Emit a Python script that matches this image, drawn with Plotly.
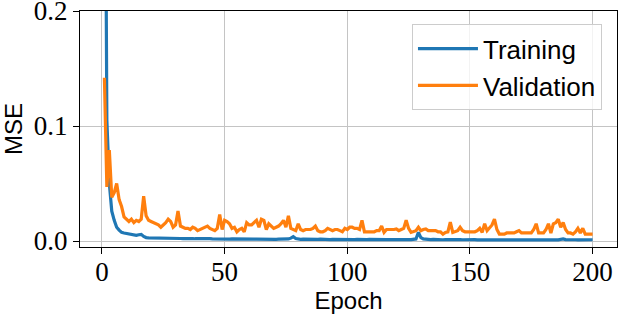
import plotly.graph_objects as go

epochs = list(range(1, 201))

training = [
    0.5, 0.105, 0.050, 0.026, 0.018, 0.012, 0.0095, 0.0075, 0.007, 0.0065, 0.006, 0.0055, 0.0055, 0.005, 0.0055, 0.0058, 0.004, 0.003, 0.0028, 0.0028,
    0.0027, 0.0026, 0.0027, 0.0025, 0.0024, 0.0026, 0.0024, 0.0023, 0.0025, 0.0022, 0.0023, 0.0022, 0.0021, 0.0023, 0.0021, 0.0020, 0.0022, 0.0020, 0.0021, 0.0019,
    0.0021, 0.0020, 0.0019, 0.0021, 0.0019, 0.0018, 0.0020, 0.0019, 0.0018, 0.0019, 0.0018, 0.0017, 0.0019, 0.0018, 0.0017, 0.0018, 0.0017, 0.0018, 0.0016, 0.0017,
    0.0018, 0.0016, 0.0017, 0.0016, 0.0018, 0.0016, 0.0017, 0.0015, 0.0016, 0.0017, 0.0015, 0.0016, 0.0015, 0.0017, 0.0016, 0.0018, 0.0025, 0.0038, 0.0022, 0.0016,
    0.0015, 0.0016, 0.0015, 0.0014, 0.0016, 0.0015, 0.0014, 0.0015, 0.0016, 0.0014, 0.0015, 0.0014, 0.0013, 0.0015, 0.0014, 0.0013, 0.0014, 0.0015, 0.0013, 0.0014,
    0.0013, 0.0014, 0.0013, 0.0015, 0.0013, 0.0014, 0.0012, 0.0013, 0.0014, 0.0013, 0.0012, 0.0013, 0.0014, 0.0012, 0.0013, 0.0012, 0.0013, 0.0012, 0.0014, 0.0012,
    0.0013, 0.0012, 0.0011, 0.0013, 0.0012, 0.0013, 0.0012, 0.0018, 0.0075, 0.0030, 0.0018, 0.0015, 0.0014, 0.0013, 0.0014, 0.0012, 0.0013, 0.0012, 0.0011, 0.0012,
    0.0013, 0.0011, 0.0012, 0.0011, 0.0012, 0.0013, 0.0011, 0.0012, 0.0011, 0.0012, 0.0011, 0.0012, 0.0010, 0.0011, 0.0012, 0.0011, 0.0010, 0.0011, 0.0012, 0.0011,
    0.0010, 0.0011, 0.0010, 0.0011, 0.0012, 0.0010, 0.0011, 0.0010, 0.0011, 0.0010, 0.0011, 0.0010, 0.0011, 0.0013, 0.0011, 0.0010, 0.0011, 0.0010, 0.0011, 0.0010,
    0.0011, 0.0010, 0.0011, 0.0010, 0.0011, 0.0010, 0.0012, 0.0018, 0.0012, 0.0010, 0.0011, 0.0010, 0.0011, 0.0010, 0.0011, 0.0010, 0.0011, 0.0010, 0.0010, 0.0011,
]

validation = [
    0.142, 0.047, 0.079, 0.038, 0.042, 0.050, 0.036, 0.030, 0.021, 0.019, 0.017, 0.019, 0.016, 0.018, 0.017, 0.019, 0.039, 0.022, 0.018, 0.017,
    0.016, 0.015, 0.014, 0.012, 0.014, 0.016, 0.019, 0.017, 0.012, 0.014, 0.026, 0.013, 0.012, 0.011, 0.011, 0.010, 0.012, 0.011, 0.009, 0.010,
    0.011, 0.012, 0.013, 0.011, 0.010, 0.009, 0.011, 0.023, 0.010, 0.018, 0.017, 0.015, 0.011, 0.012, 0.008, 0.010, 0.011, 0.008, 0.016, 0.014,
    0.014, 0.016, 0.018, 0.012, 0.019, 0.018, 0.010, 0.015, 0.013, 0.011, 0.012, 0.013, 0.015, 0.018, 0.012, 0.022, 0.011, 0.010, 0.009, 0.015,
    0.010, 0.009, 0.010, 0.010, 0.010, 0.011, 0.013, 0.009, 0.008, 0.008, 0.009, 0.011, 0.010, 0.009, 0.010, 0.010, 0.009, 0.008, 0.011, 0.010,
    0.012, 0.012, 0.011, 0.011, 0.010, 0.018, 0.008, 0.008, 0.0075, 0.008, 0.008, 0.009, 0.009, 0.013, 0.0075, 0.010, 0.010, 0.0095, 0.010, 0.0105,
    0.009, 0.010, 0.011, 0.018, 0.011, 0.0075, 0.008, 0.009, 0.012, 0.009, 0.010, 0.0105, 0.009, 0.009, 0.009, 0.009, 0.008, 0.008, 0.006, 0.0075,
    0.008, 0.0165, 0.0075, 0.008, 0.009, 0.012, 0.009, 0.008, 0.008, 0.008, 0.008, 0.008, 0.009, 0.011, 0.0075, 0.015, 0.009, 0.012, 0.014, 0.019,
    0.010, 0.006, 0.006, 0.006, 0.007, 0.007, 0.007, 0.007, 0.008, 0.009, 0.007, 0.007, 0.007, 0.007, 0.007, 0.010, 0.015, 0.007, 0.007, 0.007,
    0.010, 0.015, 0.007, 0.015, 0.016, 0.019, 0.012, 0.016, 0.010, 0.007, 0.007, 0.006, 0.008, 0.011, 0.007, 0.011, 0.006, 0.006, 0.006, 0.006,
]

x_ticks = [0, 50, 100, 150, 200]
y_ticks = [0.0, 0.1, 0.2]
y_tick_labels = ["0.0", "0.1", "0.2"]

SERIF = "Liberation Serif, DejaVu Serif, serif"
SANS = "Liberation Sans, DejaVu Sans, sans-serif"

fig = go.Figure()
fig.add_trace(go.Scatter(x=epochs, y=training, mode="lines", name="Training",
                         line=dict(color="#1f77b4", width=3.2)))
fig.add_trace(go.Scatter(x=epochs, y=validation, mode="lines", name="Validation",
                         line=dict(color="#ff7f0e", width=3.2)))

axis_common = dict(
    showline=True, linecolor="black", linewidth=1.3, mirror=True,
    ticks="outside", ticklen=6, tickwidth=1.3, tickcolor="black",
    showgrid=True, gridcolor="#c4c4c4", gridwidth=1.2,
    zeroline=False, automargin=False, ticklabeloverflow="allow",
    tickfont=dict(family=SERIF, size=27, color="black"),
)

fig.update_xaxes(range=[-8.95, 209.95], tickvals=x_ticks, ticklabelstandoff=-6,
                 title=dict(text="Epoch", font=dict(family=SANS, size=24, color="black"), standoff=4),
                 **axis_common)
fig.update_yaxes(range=[-0.0052, 0.20002], tickvals=y_ticks, ticktext=y_tick_labels,
                 title=dict(text="MSE", font=dict(family=SANS, size=24, color="black"), standoff=6),
                 **axis_common)

fig.update_layout(
    width=618, height=316,
    margin=dict(l=80, r=1, t=11, b=69),
    paper_bgcolor="white", plot_bgcolor="white",
    showlegend=True,
    legend=dict(
        x=0.972, y=0.944, xanchor="right", yanchor="top",
        bgcolor="rgba(255,255,255,0.8)", bordercolor="#cccccc", borderwidth=1,
        font=dict(family=SANS, size=26, color="black"),
        itemwidth=60,
    ),
)

fig.write_html("out.html", config={"displayModeBar": False},
               post_script="document.body.style.margin='0';document.body.style.padding='0';")
